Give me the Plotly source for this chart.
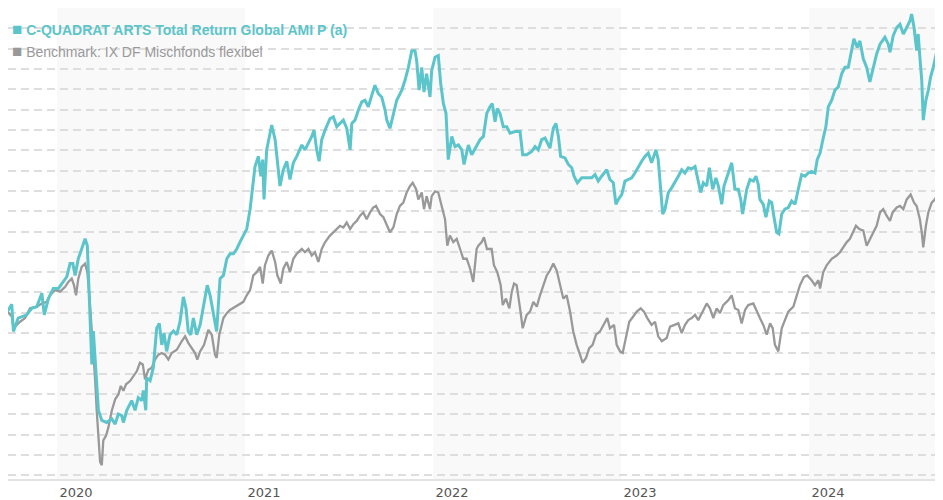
import plotly.graph_objects as go

# ---- data (decimal year, index value) ----
fund_t = [2019.736, 2019.759, 2019.768, 2019.793, 2019.839, 2019.865, 2019.892, 2019.919, 2019.932, 2019.954,
          2019.980, 2020.007, 2020.034, 2020.052, 2020.069, 2020.084, 2020.096, 2020.113, 2020.131, 2020.149,
          2020.161, 2020.172, 2020.179, 2020.185, 2020.193, 2020.202, 2020.220, 2020.238, 2020.264, 2020.291,
          2020.309, 2020.326, 2020.344, 2020.353, 2020.371, 2020.397, 2020.415, 2020.432, 2020.451, 2020.459,
          2020.472, 2020.477, 2020.495, 2020.512, 2020.530, 2020.544, 2020.557, 2020.569, 2020.583, 2020.601,
          2020.619, 2020.637, 2020.654, 2020.672, 2020.686, 2020.698, 2020.711, 2020.725, 2020.743, 2020.761,
          2020.778, 2020.799, 2020.814, 2020.831, 2020.849, 2020.867, 2020.885, 2020.903, 2020.920, 2020.938,
          2020.956, 2020.973, 2021.009, 2021.027, 2021.044, 2021.053, 2021.071, 2021.084, 2021.094, 2021.101,
          2021.115, 2021.142, 2021.160, 2021.172, 2021.186, 2021.204, 2021.222, 2021.239, 2021.257, 2021.275,
          2021.302, 2021.319, 2021.337, 2021.355, 2021.367, 2021.381, 2021.394, 2021.408, 2021.426, 2021.452,
          2021.470, 2021.488, 2021.505, 2021.523, 2021.541, 2021.559, 2021.568, 2021.585, 2021.603, 2021.621,
          2021.638, 2021.656, 2021.674, 2021.691, 2021.709, 2021.727, 2021.745, 2021.754, 2021.771, 2021.789,
          2021.807, 2021.834, 2021.851, 2021.869, 2021.887, 2021.904, 2021.913, 2021.926, 2021.940, 2021.952,
          2021.966, 2021.984, 2021.993, 2022.011, 2022.028, 2022.041, 2022.055, 2022.069, 2022.081, 2022.100,
          2022.117, 2022.135, 2022.153, 2022.165, 2022.188, 2022.206, 2022.232, 2022.250, 2022.268, 2022.286,
          2022.303, 2022.315, 2022.330, 2022.342, 2022.356, 2022.374, 2022.392, 2022.410, 2022.436, 2022.463,
          2022.477, 2022.498, 2022.525, 2022.543, 2022.560, 2022.578, 2022.596, 2022.613, 2022.622, 2022.640,
          2022.654, 2022.667, 2022.679, 2022.702, 2022.720, 2022.738, 2022.750, 2022.768, 2022.791, 2022.818,
          2022.844, 2022.862, 2022.879, 2022.897, 2022.924, 2022.941, 2022.959, 2022.973, 2022.986, 2023.004,
          2023.021, 2023.039, 2023.057, 2023.074, 2023.092, 2023.110, 2023.128, 2023.145, 2023.163, 2023.186,
          2023.198, 2023.211, 2023.222, 2023.234, 2023.252, 2023.270, 2023.287, 2023.305, 2023.323, 2023.340,
          2023.358, 2023.376, 2023.394, 2023.411, 2023.424, 2023.438, 2023.456, 2023.470, 2023.488, 2023.505,
          2023.518, 2023.536, 2023.548, 2023.571, 2023.589, 2023.606, 2023.624, 2023.637, 2023.647, 2023.669,
          2023.686, 2023.704, 2023.718, 2023.730, 2023.739, 2023.757, 2023.771, 2023.789, 2023.802, 2023.814,
          2023.828, 2023.840, 2023.855, 2023.872, 2023.890, 2023.908, 2023.926, 2023.943, 2023.961, 2023.979,
          2023.996, 2024.014, 2024.032, 2024.044, 2024.059, 2024.076, 2024.090, 2024.103, 2024.121, 2024.138,
          2024.156, 2024.174, 2024.191, 2024.209, 2024.227, 2024.239, 2024.257, 2024.271, 2024.289, 2024.307,
          2024.324, 2024.342, 2024.360, 2024.378, 2024.404, 2024.422, 2024.431, 2024.448, 2024.467, 2024.484,
          2024.502, 2024.520, 2024.537, 2024.546, 2024.559, 2024.573, 2024.581, 2024.590, 2024.600, 2024.608,
          2024.622, 2024.635, 2024.647, 2024.661, 2024.679, 2024.693, 2024.706, 2024.713]
fund_v = [100.3, 102.1, 95.4, 98.7, 99.5, 101.1, 101.5, 104.8, 99.5, 103.5,
          106.0, 106.0, 107.7, 108.9, 112.1, 112.1, 109.2, 113.3, 115.7, 118.2,
          116.5, 104.3, 95.5, 87.3, 95.5, 88.9, 76.0, 73.5, 73.0, 73.9,
          72.6, 75.1, 74.7, 73.0, 76.0, 78.4, 76.0, 79.1, 78.4, 80.9,
          76.0, 84.0, 83.3, 86.5, 96.2, 97.4, 92.1, 95.0, 90.5, 94.6,
          95.5, 94.6, 97.8, 103.9, 101.1, 95.4, 94.6, 98.7, 94.6, 97.0,
          101.9, 106.8, 104.3, 100.3, 95.4, 108.4, 109.2, 113.3, 114.5, 114.5,
          115.7, 117.4, 120.6, 125.5, 132.8, 136.0, 138.5, 133.6, 137.7, 127.9,
          140.1, 146.2, 142.6, 136.9, 131.2, 135.2, 137.3, 132.8, 136.9, 138.5,
          141.3, 140.1, 141.8, 143.4, 145.0, 140.1, 137.3, 142.6, 145.0, 147.8,
          148.2, 145.8, 146.6, 147.4, 145.4, 140.1, 146.6, 147.4, 149.9, 151.9,
          152.3, 150.7, 153.5, 156.0, 153.9, 153.1, 149.9, 147.4, 145.4, 149.1,
          152.3, 154.8, 157.2, 160.4, 164.5, 164.5, 162.1, 154.8, 160.4, 154.3,
          158.8, 153.1, 159.6, 162.9, 163.3, 156.4, 151.5, 149.1, 137.7, 143.4,
          140.9, 141.3, 140.1, 136.5, 141.3, 138.9, 141.3, 142.6, 143.4, 149.1,
          150.7, 151.5, 147.0, 150.3, 149.1, 145.8, 145.8, 144.2, 144.6, 144.6,
          138.9, 138.9, 139.7, 140.9, 140.1, 142.6, 143.0, 141.3, 140.5, 145.4,
          146.6, 143.4, 138.5, 138.1, 136.5, 135.7, 133.6, 132.0, 133.2, 133.2,
          133.2, 134.0, 132.4, 133.6, 135.2, 132.8, 132.0, 126.7, 127.9, 129.1,
          132.4, 132.8, 133.2, 134.4, 136.0, 137.3, 138.5, 139.3, 136.9, 140.1,
          137.7, 130.4, 124.3, 125.5, 129.6, 130.8, 132.0, 133.6, 135.2, 134.4,
          135.7, 135.4, 136.0, 132.8, 129.6, 132.0, 131.2, 135.7, 130.4, 133.2,
          131.2, 126.7, 131.2, 134.4, 136.9, 130.4, 130.4, 127.9, 124.3, 130.4,
          132.8, 132.4, 133.6, 131.6, 127.9, 126.7, 123.5, 127.5, 127.1, 123.5,
          119.8, 119.4, 124.3, 125.5, 125.9, 127.5, 126.7, 130.4, 134.0, 133.6,
          134.4, 134.8, 134.4, 137.7, 139.3, 143.0, 145.8, 150.7, 152.3, 154.8,
          155.6, 158.8, 160.4, 160.4, 164.5, 167.4, 165.3, 166.9, 162.5, 160.4,
          156.8, 160.4, 163.7, 166.1, 167.8, 166.1, 164.1, 168.2, 170.2, 171.0,
          168.6, 170.2, 171.8, 173.5, 170.2, 164.5, 168.6, 162.9, 157.2, 147.4,
          152.3, 154.8, 158.0, 160.4, 164.1, 161.3, 158.0, 160.4]

bench_t = [2019.736, 2019.759, 2019.768, 2019.786, 2019.803, 2019.830, 2019.856, 2019.892, 2019.919, 2019.945,
           2019.963, 2019.989, 2020.016, 2020.043, 2020.060, 2020.078, 2020.090, 2020.101, 2020.113, 2020.131,
           2020.149, 2020.161, 2020.172, 2020.185, 2020.193, 2020.202, 2020.211, 2020.220, 2020.229, 2020.238,
           2020.246, 2020.261, 2020.273, 2020.291, 2020.309, 2020.326, 2020.339, 2020.353, 2020.367, 2020.388,
           2020.406, 2020.424, 2020.441, 2020.456, 2020.468, 2020.486, 2020.504, 2020.521, 2020.539, 2020.557,
           2020.574, 2020.592, 2020.610, 2020.637, 2020.663, 2020.681, 2020.698, 2020.717, 2020.734, 2020.746,
           2020.761, 2020.782, 2020.805, 2020.823, 2020.840, 2020.849, 2020.863, 2020.885, 2020.903, 2020.920,
           2020.947, 2020.973, 2020.991, 2021.009, 2021.027, 2021.044, 2021.062, 2021.080, 2021.094, 2021.106,
           2021.124, 2021.142, 2021.160, 2021.172, 2021.190, 2021.204, 2021.222, 2021.239, 2021.257, 2021.275,
           2021.302, 2021.319, 2021.337, 2021.355, 2021.372, 2021.390, 2021.408, 2021.426, 2021.452, 2021.479,
           2021.505, 2021.523, 2021.541, 2021.559, 2021.576, 2021.594, 2021.612, 2021.629, 2021.647, 2021.665,
           2021.682, 2021.697, 2021.718, 2021.736, 2021.754, 2021.771, 2021.789, 2021.807, 2021.824, 2021.842,
           2021.860, 2021.878, 2021.892, 2021.910, 2021.922, 2021.940, 2021.952, 2021.966, 2021.984, 2021.993,
           2022.011, 2022.028, 2022.046, 2022.064, 2022.076, 2022.090, 2022.108, 2022.126, 2022.144, 2022.161,
           2022.179, 2022.197, 2022.214, 2022.232, 2022.241, 2022.259, 2022.271, 2022.287, 2022.312, 2022.324,
           2022.342, 2022.360, 2022.371, 2022.388, 2022.406, 2022.419, 2022.431, 2022.445, 2022.463, 2022.477,
           2022.498, 2022.516, 2022.534, 2022.552, 2022.569, 2022.587, 2022.605, 2022.622, 2022.640, 2022.658,
           2022.676, 2022.693, 2022.711, 2022.729, 2022.746, 2022.764, 2022.782, 2022.796, 2022.814, 2022.831,
           2022.849, 2022.867, 2022.888, 2022.906, 2022.927, 2022.941, 2022.963, 2022.977, 2022.995, 2023.009,
           2023.027, 2023.044, 2023.065, 2023.084, 2023.105, 2023.122, 2023.140, 2023.163, 2023.181, 2023.198,
           2023.217, 2023.243, 2023.261, 2023.282, 2023.305, 2023.323, 2023.340, 2023.358, 2023.376, 2023.394,
           2023.411, 2023.438, 2023.456, 2023.473, 2023.491, 2023.509, 2023.527, 2023.544, 2023.571, 2023.589,
           2023.606, 2023.624, 2023.642, 2023.660, 2023.677, 2023.704, 2023.722, 2023.739, 2023.757, 2023.775,
           2023.793, 2023.807, 2023.819, 2023.837, 2023.855, 2023.872, 2023.890, 2023.917, 2023.935, 2023.952,
           2023.973, 2023.991, 2024.014, 2024.032, 2024.050, 2024.059, 2024.076, 2024.094, 2024.121, 2024.147,
           2024.165, 2024.182, 2024.201, 2024.218, 2024.232, 2024.250, 2024.268, 2024.289, 2024.307, 2024.324,
           2024.342, 2024.360, 2024.378, 2024.395, 2024.413, 2024.431, 2024.445, 2024.467, 2024.484, 2024.502,
           2024.520, 2024.541, 2024.559, 2024.573, 2024.581, 2024.590, 2024.600, 2024.608, 2024.622, 2024.635,
           2024.653, 2024.670, 2024.682, 2024.697, 2024.713]
bench_v = [100.3, 99.1, 96.2, 97.0, 97.8, 98.7, 101.1, 101.5, 102.3, 102.7,
           104.3, 105.6, 105.2, 106.4, 107.6, 108.4, 106.8, 104.3, 108.4, 111.3,
           112.1, 110.0, 104.3, 95.4, 90.5, 84.0, 75.9, 69.4, 63.3, 62.5,
           68.6, 69.8, 71.8, 75.9, 78.7, 79.9, 82.0, 80.8, 82.4, 83.2,
           84.4, 85.6, 87.7, 87.3, 83.6, 86.0, 86.5, 88.5, 89.7, 90.1,
           89.7, 88.5, 90.1, 90.9, 93.0, 94.2, 92.6, 91.3, 90.1, 88.5,
           90.5, 92.1, 95.8, 94.6, 89.7, 88.9, 94.6, 98.7, 99.9, 100.7,
           101.5, 102.3, 102.7, 104.3, 105.6, 109.2, 110.0, 111.3, 107.2, 111.7,
           114.1, 115.3, 112.5, 109.2, 107.2, 110.9, 112.5, 110.0, 113.3, 114.5,
           115.7, 114.9, 115.7, 114.1, 114.9, 112.5, 115.7, 117.4, 119.0, 120.2,
           121.4, 121.0, 122.2, 120.6, 121.8, 122.6, 123.9, 124.7, 123.0, 124.7,
           125.9, 126.3, 124.3, 123.5, 121.4, 119.8, 121.0, 124.3, 126.3, 127.1,
           129.6, 131.2, 132.0, 130.4, 127.9, 129.6, 125.5, 128.7, 125.5, 128.7,
           129.9, 129.6, 126.3, 123.0, 116.5, 119.0, 117.4, 118.2, 115.7, 113.3,
           113.3, 110.9, 107.6, 115.7, 116.5, 117.4, 118.6, 115.7, 115.7, 111.7,
           110.0, 106.8, 101.9, 103.5, 101.1, 105.2, 107.2, 106.8, 101.1, 96.2,
           99.5, 100.3, 102.7, 101.5, 104.3, 106.8, 109.2, 110.4, 112.1, 110.4,
           106.8, 103.5, 104.3, 100.3, 95.4, 92.1, 89.7, 87.7, 88.9, 91.3,
           92.1, 94.6, 95.4, 97.0, 98.7, 96.2, 97.0, 92.1, 90.5, 90.1,
           93.8, 97.8, 99.1, 100.3, 101.1, 100.3, 98.7, 97.0, 97.8, 94.2,
           93.0, 93.8, 96.6, 97.0, 97.4, 95.0, 97.0, 98.2, 98.7, 99.5,
           98.2, 100.6, 102.3, 101.1, 98.7, 101.1, 99.9, 101.9, 103.1, 104.3,
           101.1, 100.7, 97.4, 100.7, 101.9, 102.3, 100.3, 98.7, 97.0, 94.6,
           97.4, 96.2, 92.1, 90.5, 96.2, 98.2, 100.3, 101.5, 104.3, 106.8,
           108.8, 109.2, 108.0, 106.8, 108.0, 106.0, 110.0, 111.7, 113.3, 114.1,
           114.9, 116.1, 117.4, 118.2, 119.8, 121.4, 120.6, 120.2, 116.5, 118.2,
           119.8, 121.4, 124.7, 125.5, 123.9, 122.6, 124.7, 125.9, 126.3, 125.5,
           127.9, 129.1, 127.1, 126.3, 124.7, 123.0, 119.8, 116.1, 121.4, 124.7,
           127.1, 127.9, 129.1, 125.5, 127.9]

years = [2020, 2021, 2022, 2023, 2024]
year_labels = ["2020", "2021", "2022", "2023", "2024"]
shaded_years = [2020, 2022, 2024]

fund_name = "C-QUADRAT ARTS Total Return Global AMI P (a)"
bench_name = "Benchmark: IX DF Mischfonds flexibel"

TEAL = "#5bc5cb"
GREY = "#999999"

fig = go.Figure()
fig.add_trace(go.Scatter(x=bench_t, y=bench_v, mode="lines", name=bench_name,
                         line=dict(color=GREY, width=2.3), showlegend=False))
fig.add_trace(go.Scatter(x=fund_t, y=fund_v, mode="lines", name=fund_name,
                         line=dict(color=TEAL, width=3), showlegend=False))

for yr in shaded_years:
    fig.add_shape(type="rect", xref="x", yref="paper", x0=yr, x1=yr + 1, y0=0, y1=1,
                  fillcolor="#f9f9f9", line=dict(width=0), layer="below")

fig.add_annotation(xref="paper", yref="paper", x=0.002, y=0.954, xanchor="left", yanchor="middle",
                   text="<b><span style='font-size:17px'>■</span> " + fund_name + "</b>", showarrow=False,
                   font=dict(family="Liberation Sans, Arial", size=14, color=TEAL))
fig.add_annotation(xref="paper", yref="paper", x=0.002, y=0.907, xanchor="left", yanchor="middle",
                   text="<span style='font-size:17px'>■</span> " + bench_name, showarrow=False,
                   font=dict(family="Liberation Sans, Arial", size=14, color=GREY))

fig.update_layout(
    width=935, height=492,
    margin=dict(l=0, r=0, t=0, b=18),
    paper_bgcolor="white", plot_bgcolor="white",
    hovermode=False,
)
fig.update_xaxes(range=[2019.739, 2024.713], tickmode="array", tickvals=years, ticktext=year_labels,
                 ticklabelshift=19, showgrid=False, zeroline=False, showline=True,
                 linecolor="#e3e3e3", linewidth=2, ticks="",
                 tickfont=dict(family="DejaVu Sans", size=13, color="#555555"))
fig.update_yaxes(range=[59.1, 175.0], tick0=60, dtick=5, showticklabels=False, zeroline=False,
                 showgrid=True, gridcolor="#dedede", gridwidth=1.5, griddash="8px,5px", showline=False)

fig.write_html("out.html")
